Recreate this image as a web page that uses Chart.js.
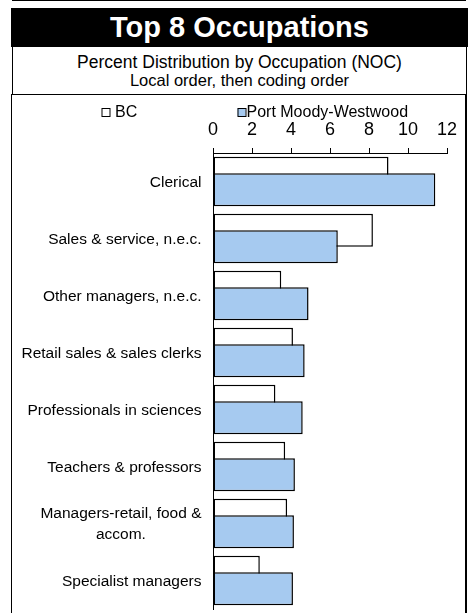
<!DOCTYPE html>
<html>
<head>
<meta charset="utf-8">
<script src="https://cdn.jsdelivr.net/npm/chart.js@4"></script>
<style>
  html, body { margin: 0; padding: 0; background: #fff; }
  body { width: 471px; height: 613px; position: relative; overflow: hidden; font-family: "Liberation Sans", Arial, sans-serif; }
  .abs { position: absolute; box-sizing: border-box; }
  #topline { left: 12px; top: 0; width: 454px; height: 1px; background: #000; }
  #title { left: 11px; top: 8px; width: 457px; height: 39px; background: #000; color: #fff; font-weight: bold; font-size: 29px; line-height: 39px; text-align: center; }
  #sub { left: 12px; top: 47px; width: 455px; height: 48px; border-left: 1px solid #000; border-right: 1px solid #000; border-bottom: 1px solid #000; background: #fff; }
  #sub1 { left: 0; width: 100%; top: 4px; text-align: center; font-size: 17.5px; line-height: 22px; color: #000; }
  #sub2 { left: 0; width: 100%; top: 23px; text-align: center; font-size: 16.5px; line-height: 20px; color: #000; }
  #box { left: 11px; top: 94px; width: 456px; height: 540px; border-left: 1.5px solid #000; border-right: 2px solid #000; border-top: 1px solid #000; }
  #c { position: absolute; left: 0; top: 0; }
</style>
</head>
<body>
<div class="abs" id="topline"></div>
<div class="abs" id="title">Top 8 Occupations</div>
<div class="abs" id="sub">
  <div class="abs" id="sub1">Percent Distribution by Occupation (NOC)</div>
  <div class="abs" id="sub2">Local order, then coding order</div>
</div>
<div class="abs" id="box"></div>
<canvas id="c" width="471" height="613"></canvas>
<script>
// ---- data ----
const categories = [
  'Clerical',
  'Sales & service, n.e.c.',
  'Other managers, n.e.c.',
  'Retail sales & sales clerks',
  'Professionals in sciences',
  'Teachers & professors',
  ['Managers-retail, food &', 'accom.'],
  'Specialist managers'
];
const seriesNames = ['BC', 'Port Moody-Westwood'];
const bcValues = [9.0, 8.2, 3.5, 4.1, 3.2, 3.7, 3.8, 2.4];
const localValues = [11.4, 6.4, 4.9, 4.7, 4.6, 4.2, 4.15, 4.1];
const xTicks = [0, 2, 4, 6, 8, 10, 12];

const FONT = '"Liberation Sans", Arial, sans-serif';

// draw the local series on top of the BC series
const localOnTop = {
  id: 'localOnTop',
  beforeDatasetDraw(chart, args) {
    if (args.index === 1) return false;
  },
  afterDatasetsDraw(chart) {
    const meta = chart.getDatasetMeta(1);
    chart.ctx.save();
    meta.controller.draw();
    chart.ctx.restore();
  }
};

// category labels: right-aligned block, lines centred inside it
const catLabels = {
  id: 'catLabels',
  afterDraw(chart) {
    const y = chart.scales.y;
    const ctx = chart.ctx;
    ctx.save();
    ctx.font = '15.5px ' + FONT;
    ctx.fillStyle = '#000';
    ctx.textAlign = 'center';
    ctx.textBaseline = 'middle';
    const rightEdge = y.right - 11.5;
    const lineH = 21;
    categories.forEach((lab, i) => {
      const lines = Array.isArray(lab) ? lab : [lab];
      const w = Math.max(...lines.map(l => ctx.measureText(l).width));
      const cx = rightEdge - w / 2;
      const yc = y.getPixelForValue(i);
      lines.forEach((l, j) => ctx.fillText(l, cx, yc + (j - (lines.length - 1) / 2) * lineH + 1));
    });
    ctx.restore();
  }
};

// legend row (Excel style: small boxes, wide gap between the two entries)
const legendRow = {
  id: 'legendRow',
  afterDraw(chart) {
    const ctx = chart.ctx;
    ctx.save();
    ctx.font = '16px ' + FONT;
    ctx.textBaseline = 'middle';
    ctx.textAlign = 'left';
    const yc = 112;
    const box = 8;
    const starts = [101.5, 237.5];
    const textGap = [13.5, 9];
    chart.data.datasets.forEach((ds, i) => {
      const x = starts[i];
      ctx.fillStyle = ds.backgroundColor;
      ctx.fillRect(x, yc - box / 2, box, box);
      ctx.strokeStyle = ds.borderColor;
      ctx.lineWidth = 1;
      ctx.strokeRect(x + 0.5, yc - box / 2 + 0.5, box, box);
      ctx.fillStyle = '#000';
      ctx.fillText(ds.label, x + textGap[i], yc + 0.5);
    });
    ctx.restore();
  }
};

new Chart(document.getElementById('c'), {
  type: 'bar',
  data: {
    labels: categories.map((c, i) => i),
    datasets: [
      {
        label: seriesNames[0],
        data: bcValues,
        backgroundColor: '#FFFFFF',
        borderColor: '#000000',
        borderWidth: 1.5,
        borderSkipped: false
      },
      {
        label: seriesNames[1],
        data: localValues,
        backgroundColor: '#A6CAF0',
        borderColor: '#000000',
        borderWidth: 1.5,
        borderSkipped: false
      }
    ]
  },
  options: {
    indexAxis: 'y',
    responsive: false,
    animation: false,
    devicePixelRatio: 1,
    categoryPercentage: 0.579,
    barPercentage: 2.0,
    layout: { padding: { top: 108, left: 65, right: 24, bottom: 4 } },
    plugins: {
      title: { display: false },
      tooltip: { enabled: false },
      legend: { display: false }
    },
    scales: {
      x: {
        position: 'top',
        min: 0,
        max: 12,
        afterBuildTicks(scale) { scale.ticks = xTicks.map(v => ({ value: v })); },
        afterFit(scale) { scale.height = 45; },
        ticks: {
          color: '#000',
          font: { family: FONT, size: 18 },
          padding: 7,
          maxRotation: 0
        },
        grid: {
          drawOnChartArea: false,
          drawTicks: true,
          tickLength: 5,
          color: '#000',
          lineWidth: 1
        },
        border: { display: true, color: '#000', width: 1 }
      },
      y: {
        afterFit(scale) { scale.width = 148; },
        ticks: { display: false },
        grid: { display: false },
        border: { display: true, color: '#000', width: 1 }
      }
    }
  },
  plugins: [localOnTop, catLabels, legendRow]
});
</script>
</body>
</html>
